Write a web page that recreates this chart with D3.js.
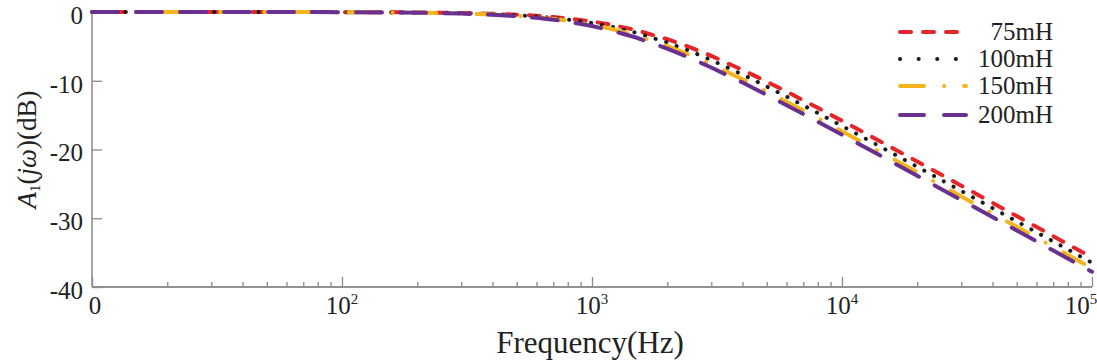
<!DOCTYPE html>
<html>
<head>
<meta charset="utf-8">
<script src="https://cdn.jsdelivr.net/npm/d3@7"></script>
<style>
  html, body { margin: 0; padding: 0; background: #fff; }
  svg { display: block; }
  text { font-family: "Liberation Serif", "Times New Roman", serif; fill: #222; }
</style>
</head>
<body>
<svg id="chart" width="1097" height="362"></svg>
<script>
// ---- data ----
const freqs = [10, 20, 50, 100, 200, 300, 400, 500, 600, 700, 800, 1000, 1200, 1500, 2000, 2500, 3000, 4000, 5000, 6000, 8000, 10000, 15000, 20000, 30000, 50000, 70000, 100000];
const gain75  = [0, 0, 0, -0.02, -0.06, -0.14, -0.25, -0.39, -0.55, -0.73, -0.93, -1.37, -1.86, -2.64, -3.96, -5.21, -6.38, -8.42, -10.13, -11.58, -13.94, -15.82, -19.27, -21.75, -25.26, -29.69, -32.61, -35.71];
const gain100 = [0, 0, 0, -0.02, -0.08, -0.17, -0.30, -0.46, -0.65, -0.86, -1.09, -1.60, -2.15, -3.01, -4.44, -5.77, -6.99, -9.09, -10.83, -12.30, -14.69, -16.57, -20.04, -22.52, -26.03, -30.46, -33.38, -36.48];
const gain150 = [0, 0, 0, -0.02, -0.09, -0.20, -0.36, -0.54, -0.76, -1.01, -1.27, -1.86, -2.47, -3.42, -4.96, -6.36, -7.63, -9.79, -11.56, -13.05, -15.45, -17.35, -20.82, -23.31, -26.82, -31.25, -34.17, -37.27];
const gain200 = [0, 0, 0, -0.03, -0.10, -0.23, -0.40, -0.61, -0.85, -1.12, -1.41, -2.04, -2.71, -3.71, -5.32, -6.77, -8.07, -10.26, -12.05, -13.55, -15.96, -17.86, -21.34, -23.83, -27.34, -31.78, -34.70, -37.79];
const seriesNames = ["75mH", "100mH", "150mH", "200mH"];
const seriesValues = [gain75, gain100, gain150, gain200];
const yTicks = [0, -10, -20, -30, -40];
const xMajorTicks = [10, 100, 1000, 10000, 100000];
const xMajorBase = ["0", "10", "10", "10", "10"];
const xMajorExp = ["", "2", "3", "4", "5"];

// ---- styles ----
const colors = ["#e52628", "#1a1a1a", "#f4b41e", "#6a3090"];
const dashes = ["11,12", "0.1,11", "24,20,0.1,20", "26,18"];
const legendDashes = ["11,12", "0.1,18.5", "24,20,0.1,20", "24,20"];

const svg = d3.select("#chart");
const x = d3.scaleLog().domain([10, 100000]).range([92, 1092]);
const y = d3.scaleLinear().domain([-40, 0]).range([287, 12]);

const axisColor = "#8a8a8a";

// minor x ticks
const minor = [];
for (let d = 10; d < 100000; d *= 10) for (let k = 2; k <= 9; k++) minor.push(d * k);

const gx = svg.append("g").attr("transform", `translate(0,${y(-40)})`);
gx.call(d3.axisBottom(x).tickValues(minor).tickSize(-5).tickFormat(""));
const gx2 = svg.append("g").attr("transform", `translate(0,${y(-40)})`);
gx2.call(d3.axisBottom(x).tickValues(xMajorTicks).tickSize(-10).tickFormat(""));
[gx, gx2].forEach(g => {
  g.select(".domain").attr("stroke", axisColor).attr("stroke-width", 1.5).attr("d", `M${x(10)},0H${x(100000)}`);
  g.selectAll(".tick line").attr("stroke", axisColor).attr("stroke-width", 1.3);
});

// x tick labels with superscripts
const xl = svg.append("g");
xMajorTicks.forEach((t, i) => {
  const tx = xl.append("text")
    .attr("x", x(t) + (i === 0 ? 3 : (i === 4 ? -11 : 0)))
    .attr("y", 314)
    .attr("text-anchor", "middle")
    .attr("font-size", 25);
  tx.append("tspan").text(xMajorBase[i]);
  if (xMajorExp[i]) {
    tx.append("tspan").attr("dy", -10).attr("font-size", 15).text(xMajorExp[i]);
  }
});

// y axis
const gy = svg.append("g").attr("transform", `translate(${x(10)},0)`);
gy.call(d3.axisLeft(y).tickValues(yTicks).tickSize(-10).tickPadding(9).tickFormat(d => String(d)));
gy.select(".domain").attr("stroke", axisColor).attr("stroke-width", 1.5).attr("d", `M0,${y(0)}V${y(-40)}`);
gy.selectAll(".tick line").attr("stroke", axisColor).attr("stroke-width", 1.3);
gy.selectAll(".tick text")
  .attr("font-size", 25)
  .attr("fill", "#222")
  .attr("dy", "0.45em");

// axis titles
svg.append("text")
  .attr("x", 590).attr("y", 353)
  .attr("text-anchor", "middle")
  .attr("font-size", 31)
  .text("Frequency(Hz)");

const yl = svg.append("text")
  .attr("transform", `translate(36,${(y(0) + y(-40)) / 2}) rotate(-90)`)
  .attr("text-anchor", "middle")
  .attr("font-size", 27);
yl.append("tspan").attr("font-style", "italic").text("A");
yl.append("tspan").attr("font-size", 15).attr("dy", 4).text("1");
yl.append("tspan").attr("dy", -4).text("(");
yl.append("tspan").attr("font-style", "italic").text("jω");
yl.append("tspan").text(")(dB)");

// curves
const line = d3.line().x((d, i) => x(freqs[i])).y(d => y(d));
const curves = svg.append("g");
seriesValues.forEach((vals, s) => {
  curves.append("path")
    .datum(vals)
    .attr("d", line)
    .attr("fill", "none")
    .attr("stroke", colors[s])
    .attr("stroke-width", 4)
    .attr("stroke-linecap", "round")
    .attr("stroke-dasharray", dashes[s]);
});

// legend
const legY = [32, 59, 86, 115];
const lg = svg.append("g");
seriesNames.forEach((name, s) => {
  lg.append("line")
    .attr("x1", 900).attr("x2", 966)
    .attr("y1", legY[s]).attr("y2", legY[s])
    .attr("stroke", colors[s])
    .attr("stroke-width", 4)
    .attr("stroke-linecap", "round")
    .attr("stroke-dasharray", legendDashes[s]);
  lg.append("text")
    .attr("x", 1053).attr("y", legY[s] + 8)
    .attr("text-anchor", "end")
    .attr("font-size", 25)
    .text(name);
});
</script>
</body>
</html>
